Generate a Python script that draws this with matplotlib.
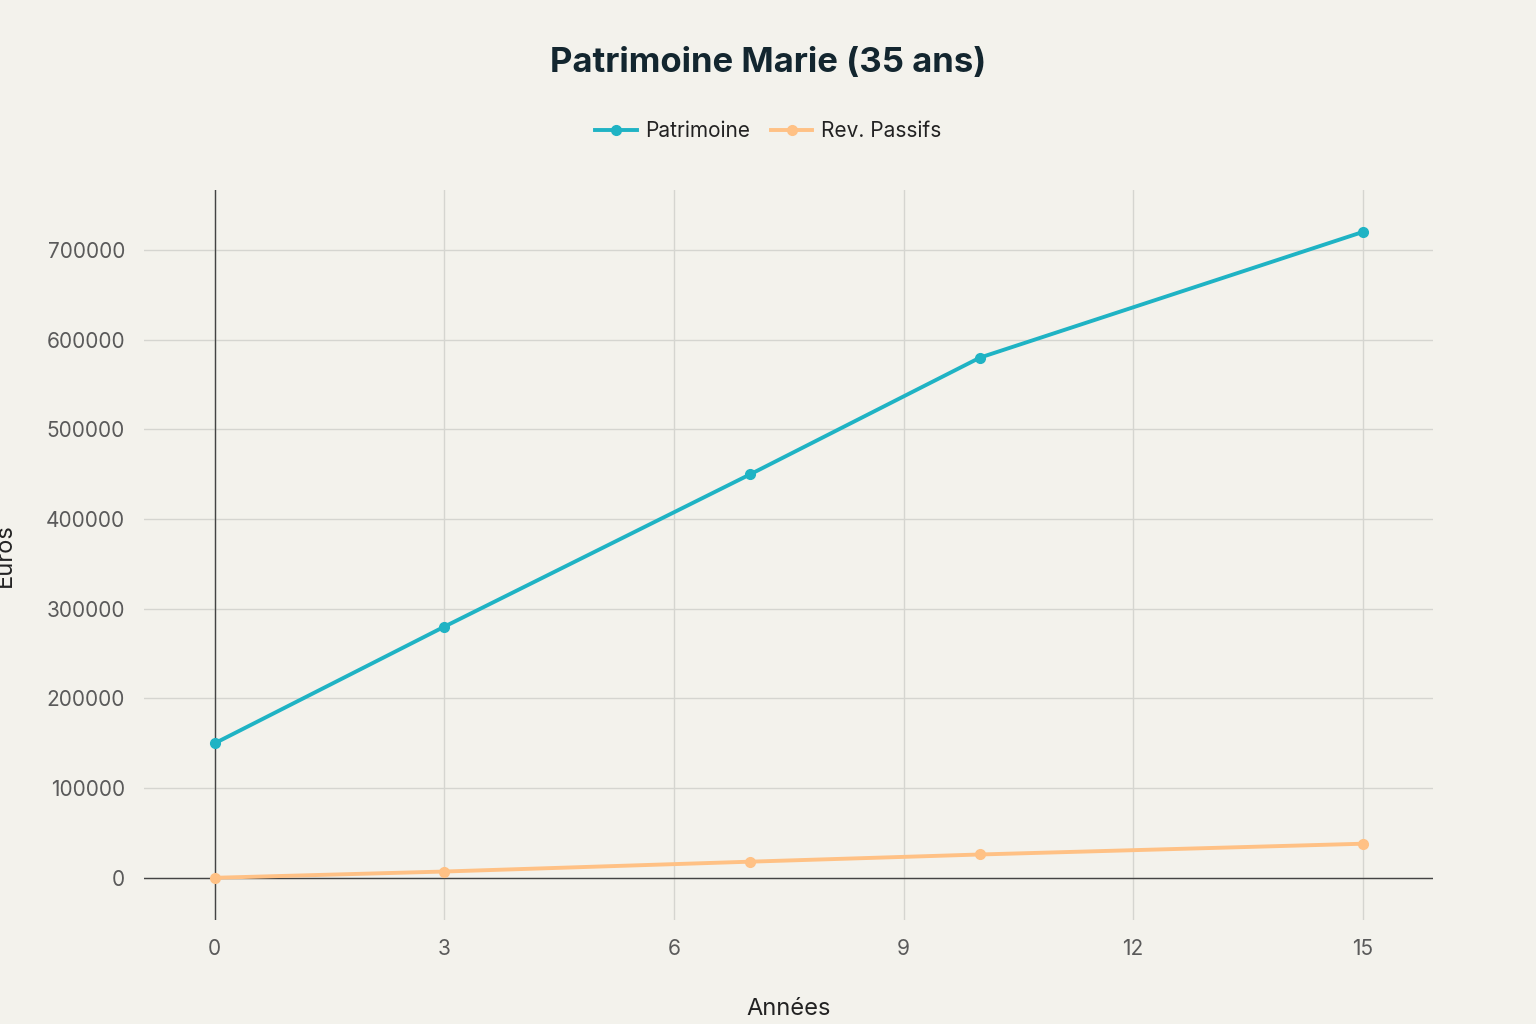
import matplotlib
matplotlib.use("Agg")
import matplotlib.pyplot as plt

years = [0, 3, 7, 10, 15]
patrimoine = [150000, 280000, 450000, 580000, 720000]
rev_passifs = [0, 7000, 18000, 26000, 38000]
xticks = [0, 3, 6, 9, 12, 15]
yticks = [0, 100000, 200000, 300000, 400000, 500000, 600000, 700000]

plt.rcParams['font.family'] = ['Inter', 'DejaVu Sans']
bg = '#F3F2EC'
fig = plt.figure(figsize=(15.36, 10.24), dpi=100, facecolor=bg)
ax = fig.add_axes([0.094, 0.1016, 0.839, 0.713], facecolor=bg)

ax.plot(years, patrimoine, color='#1FB3C4', lw=2.8, marker='o', ms=7, label='Patrimoine', zorder=3)
ax.plot(years, rev_passifs, color='#FFC185', lw=2.8, marker='o', ms=7, label='Rev. Passifs', zorder=3)

ax.set_xlim(-0.92, 15.92)
ax.set_ylim(-47000, 767000)
ax.set_xticks(xticks)
ax.set_yticks(yticks)
ax.set_yticklabels([str(v) for v in yticks])
ax.grid(True, color='#D5D5D0', lw=1)
ax.axhline(0, color='#444444', lw=1, zorder=2)
ax.axvline(0, color='#444444', lw=1, zorder=2)
for s in ax.spines.values():
    s.set_visible(False)
ax.tick_params(length=0, labelsize=15, colors='#5A5A5A', pad=14)
ax.set_xlabel('Années', fontsize=17, color='#222222')
ax.set_ylabel('Euros', fontsize=17, color='#222222')
ax.xaxis.set_label_coords(0.5, -0.107)
ax.yaxis.set_label_coords(-0.1, 0.5)

fig.text(0.5, 0.938, 'Patrimoine Marie (35 ans)', ha='center', va='center',
         fontsize=25, fontweight='bold', color='#13262F')
fig.legend(loc='center', bbox_to_anchor=(0.5, 0.872), ncol=2, frameon=False,
           fontsize=15, handlelength=2, columnspacing=1, handletextpad=0.4,
           labelcolor='#222222')

fig.savefig('out.png', facecolor=bg)
